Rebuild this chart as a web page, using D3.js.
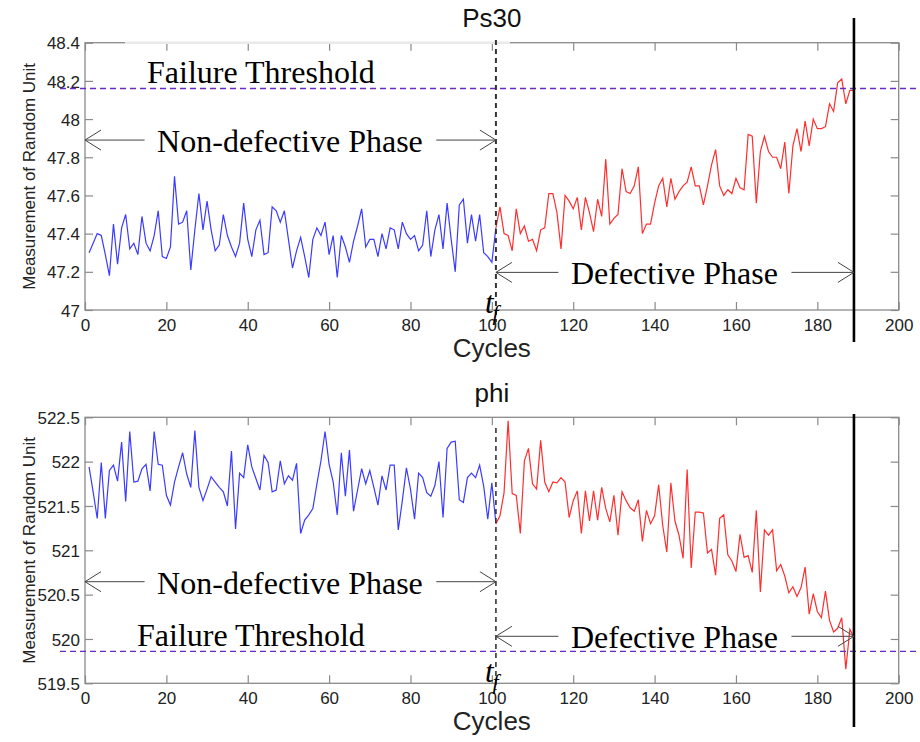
<!DOCTYPE html>
<html>
<head>
<meta charset="utf-8">
<script src="https://cdn.jsdelivr.net/npm/d3@7"></script>
<style>
  body { margin: 0; background: #fff; }
  svg { display: block; }
  .tick-label { font-family: "Liberation Sans", Arial, sans-serif; font-size: 17px; fill: #222; }
  .note { font-family: "Liberation Serif", "Times New Roman", serif; font-size: 32px; fill: #000; }
</style>
</head>
<body>
<div id="chart"></div>
<script>
// data
var ps30Normal = [47.30,47.35,47.40,47.39,47.29,47.18,47.45,47.24,47.43,47.50,
  47.32,47.35,47.29,47.49,47.35,47.31,47.39,47.52,47.28,47.27,
  47.33,47.70,47.45,47.46,47.52,47.21,47.42,47.61,47.42,47.57,
  47.42,47.31,47.34,47.50,47.39,47.33,47.28,47.35,47.56,47.37,
  47.28,47.42,47.47,47.29,47.30,47.54,47.52,47.46,47.52,47.37,
  47.22,47.31,47.38,47.28,47.17,47.37,47.43,47.39,47.46,47.29,
  47.39,47.17,47.39,47.33,47.25,47.36,47.44,47.53,47.33,47.37,
  47.37,47.28,47.40,47.32,47.43,47.42,47.32,47.46,47.40,47.37,
  47.39,47.31,47.34,47.52,47.28,47.42,47.50,47.32,47.56,47.37,
  47.20,47.55,47.58,47.35,47.50,47.36,47.50,47.30,47.28,47.25,47.43];
var ps30Defective = [47.43,47.54,47.40,47.39,47.31,47.53,47.40,47.44,47.36,47.37,
  47.31,47.42,47.43,47.61,47.61,47.51,47.32,47.60,47.57,47.53,
  47.59,47.42,47.59,47.51,47.41,47.58,47.49,47.79,47.45,47.48,
  47.50,47.74,47.62,47.61,47.65,47.75,47.40,47.45,47.45,47.56,
  47.65,47.69,47.54,47.69,47.58,47.62,47.65,47.67,47.75,47.65,
  47.65,47.55,47.65,47.76,47.84,47.65,47.60,47.63,47.61,47.69,
  47.64,47.63,47.92,47.91,47.56,47.83,47.91,47.83,47.80,47.80,
  47.74,47.88,47.61,47.86,47.95,47.83,47.99,47.86,48.00,47.95,
  47.95,47.96,48.08,48.04,48.19,48.21,48.08,48.15,48.15];
var phiNormal = [521.94,521.66,521.36,521.99,521.36,521.90,521.96,521.78,522.22,521.55,
  522.34,521.77,521.78,521.92,521.97,521.67,522.34,521.97,521.96,521.62,
  521.51,521.77,521.94,522.10,521.86,521.71,522.35,521.71,521.56,521.69,
  521.83,521.77,521.71,521.66,521.50,522.12,521.24,521.87,521.82,522.19,
  521.94,521.81,521.68,522.07,521.99,521.66,521.68,522.01,521.75,521.84,
  521.79,521.98,521.19,521.34,521.40,521.47,521.75,522.01,522.34,521.97,
  521.77,521.40,522.10,521.61,522.13,521.44,521.68,521.92,521.75,521.90,
  521.71,521.51,521.84,521.68,521.96,521.96,521.23,521.56,521.93,521.69,
  521.35,521.87,521.82,521.65,521.61,521.73,522.00,521.37,522.15,522.22,
  522.23,521.57,521.54,521.82,521.87,521.82,521.96,521.72,521.35,521.76,521.30];
var phiDefective = [521.30,521.39,521.65,522.46,521.64,521.62,521.19,522.01,522.15,521.75,
  521.69,522.24,521.77,521.66,521.77,521.76,521.82,521.77,521.37,521.56,
  521.67,521.19,521.67,521.33,521.67,521.34,521.71,521.47,521.32,521.62,
  521.17,521.66,521.56,521.48,521.44,521.57,521.10,521.45,521.30,521.39,
  521.74,521.28,520.98,521.76,521.33,521.17,520.91,521.91,520.80,521.43,
  521.43,521.42,520.97,521.01,520.72,521.36,521.40,520.95,520.88,520.76,
  521.18,520.92,520.94,520.75,521.45,520.53,521.23,521.17,521.23,520.77,
  520.84,520.71,520.52,520.59,520.48,520.58,520.81,520.28,520.51,520.31,
  520.24,520.54,520.21,520.08,520.12,520.24,519.66,520.11,520.02];

var normalStart = 1;      // first cycle of the blue part
var faultCycle = 101;     // t_f
var endCycle = 189;       // end of life
var xTicks = [0, 20, 40, 60, 80, 100, 120, 140, 160, 180, 200];
var ps30Ticks = [47, 47.2, 47.4, 47.6, 47.8, 48, 48.2, 48.4];
var phiTicks = [519.5, 520, 520.5, 521, 521.5, 522, 522.5];
var ps30Threshold = 48.16;
var phiThreshold = 519.86;

var width = 920, height = 742;
var left = 85, right = 898.7;

var svg = d3.select("#chart").append("svg")
  .attr("width", width)
  .attr("height", height);

svg.append("rect").attr("width", width).attr("height", height).attr("fill", "#fff");

var x = d3.scaleLinear().domain([0, 200]).range([left, right]);

function toPoints(values, start) {
  return values.map(function(v, i) { return { c: start + i, v: v }; });
}

function drawPanel(p) {
  var y = d3.scaleLinear().domain(p.domain).range([p.bottom, p.top]);
  var g = svg.append("g");

  // frame + ticks
  var axisColor = "#8a8a8a";
  g.append("rect")
    .attr("x", left).attr("y", p.top)
    .attr("width", right - left).attr("height", p.bottom - p.top)
    .attr("fill", "none").attr("stroke", axisColor).attr("stroke-width", 1.3);

  var bottomAxis = d3.axisBottom(x).tickValues(xTicks).tickSize(-8).tickFormat(d3.format("d"));
  var topAxis = d3.axisTop(x).tickValues(xTicks).tickSize(-8).tickFormat("");
  var leftAxis = d3.axisLeft(y).tickValues(p.ticks).tickSize(-8).tickFormat(d3.format("~g"));
  var rightAxis = d3.axisRight(y).tickValues(p.ticks).tickSize(-8).tickFormat("");

  var xb = g.append("g").attr("transform", "translate(0," + p.bottom + ")").call(bottomAxis);
  g.append("g").attr("transform", "translate(0," + p.top + ")").call(topAxis);
  var yl = g.append("g").attr("transform", "translate(" + left + ",0)").call(leftAxis);
  g.append("g").attr("transform", "translate(" + right + ",0)").call(rightAxis);

  g.selectAll(".domain").remove();
  g.selectAll(".tick line").attr("stroke", axisColor).attr("stroke-width", 1.2);
  g.selectAll(".tick text").attr("class", "tick-label").attr("font-size", null).attr("font-family", null).attr("fill", null);
  xb.selectAll(".tick text").attr("y", 21).attr("dy", null);
  yl.selectAll(".tick text").attr("x", -5).attr("dy", "0.36em");

  // faded part of the upper frame
  if (p.fade) {
    g.append("line")
      .attr("x1", p.fade[0]).attr("x2", p.fade[1])
      .attr("y1", p.top).attr("y2", p.top)
      .attr("stroke", "#eaeaea").attr("stroke-width", 2.5);
  }

  // title and axis labels
  g.append("text")
    .attr("x", (left + right) / 2).attr("y", p.top - 15.7)
    .attr("text-anchor", "middle")
    .attr("font-family", "Liberation Sans, Arial, sans-serif")
    .attr("font-size", 26).attr("fill", "#111")
    .text(p.title);

  g.append("text")
    .attr("x", (left + right) / 2).attr("y", p.bottom + 47)
    .attr("text-anchor", "middle")
    .attr("font-family", "Liberation Sans, Arial, sans-serif")
    .attr("font-size", 26).attr("fill", "#222")
    .text("Cycles");

  g.append("text")
    .attr("transform", "translate(35," + ((p.top + p.bottom) / 2) + ") rotate(-90)")
    .attr("text-anchor", "middle")
    .attr("font-family", "Liberation Sans, Arial, sans-serif")
    .attr("font-size", 17).attr("fill", "#222")
    .text("Measurement of Random Unit");

  // series
  var line = d3.line().x(function(d) { return x(d.c); }).y(function(d) { return y(d.v); });
  g.append("path")
    .datum(toPoints(p.normal, normalStart))
    .attr("d", line)
    .attr("fill", "none").attr("stroke", "#3b3bff").attr("stroke-width", 1.2);
  g.append("path")
    .datum(toPoints(p.defective, faultCycle))
    .attr("d", line)
    .attr("fill", "none").attr("stroke", "#ff2e2e").attr("stroke-width", 1.2);

  // failure threshold
  var ty = y(p.threshold);
  g.append("line")
    .attr("x1", 60).attr("x2", width)
    .attr("y1", ty).attr("y2", ty)
    .attr("stroke", "#6a2cc0").attr("stroke-width", 1.4)
    .attr("stroke-dasharray", "6,4");
  g.append("text").attr("class", "note")
    .attr("x", p.thresholdTextX).attr("y", ty - 5.5)
    .text("Failure Threshold");

  // t_f and end markers
  g.append("line")
    .attr("x1", x(faultCycle)).attr("x2", x(faultCycle))
    .attr("y1", p.dash[0]).attr("y2", p.dash[1])
    .attr("stroke", "#333").attr("stroke-width", p.dashWidth)
    .attr("stroke-dasharray", "5,4");
  g.append("line")
    .attr("x1", x(endCycle)).attr("x2", x(endCycle))
    .attr("y1", p.solid[0]).attr("y2", p.solid[1])
    .attr("stroke", "#000").attr("stroke-width", 2.6);

  var tf = g.append("text")
    .attr("x", x(faultCycle) - 11).attr("y", p.tfY)
    .attr("font-family", "Liberation Serif, serif")
    .attr("font-style", "italic").attr("font-size", 31);
  tf.append("tspan").text("t");
  tf.append("tspan").attr("font-size", 22).attr("dy", 7).attr("dx", -1).text("f");

  // phase arrows
  phaseArrow(g, x(0), x(faultCycle), y(p.normalArrow), "Non-defective Phase");
  phaseArrow(g, x(faultCycle), x(endCycle), y(p.defectArrow), "Defective Phase");
}

function phaseArrow(g, x1, x2, ay, label) {
  var t = g.append("text").attr("class", "note")
    .attr("x", (x1 + x2) / 2 - 0.5).attr("y", ay + 12)
    .attr("text-anchor", "middle")
    .text(label);
  var w = t.node().getComputedTextLength();
  var mid = (x1 + x2) / 2;
  var gap = 13;
  var c = "#444";
  g.append("line").attr("x1", x1).attr("x2", mid - w / 2 - gap).attr("y1", ay).attr("y2", ay)
    .attr("stroke", c).attr("stroke-width", 1);
  g.append("line").attr("x1", mid + w / 2 + gap).attr("x2", x2).attr("y1", ay).attr("y2", ay)
    .attr("stroke", c).attr("stroke-width", 1);
  g.append("path")
    .attr("d", "M" + (x1 + 16) + "," + (ay - 10) + "L" + x1 + "," + ay + "L" + (x1 + 16) + "," + (ay + 10))
    .attr("fill", "none").attr("stroke", c).attr("stroke-width", 1);
  g.append("path")
    .attr("d", "M" + (x2 - 16) + "," + (ay - 10) + "L" + x2 + "," + ay + "L" + (x2 - 16) + "," + (ay + 10))
    .attr("fill", "none").attr("stroke", c).attr("stroke-width", 1);
}

drawPanel({
  title: "Ps30",
  top: 42.7, bottom: 310,
  domain: [47, 48.4], ticks: ps30Ticks,
  normal: ps30Normal, defective: ps30Defective,
  threshold: ps30Threshold, thresholdTextX: 147,
  normalArrow: 47.89, defectArrow: 47.197,
  dash: [40, 322], dashWidth: 2, solid: [18, 342],
  tfY: 313, fade: [125, 510]
});

drawPanel({
  title: "phi",
  top: 417.3, bottom: 683.3,
  domain: [519.5, 522.5], ticks: phiTicks,
  normal: phiNormal, defective: phiDefective,
  threshold: phiThreshold, thresholdTextX: 137,
  normalArrow: 520.646, defectArrow: 520.03,
  dash: [428, 690], dashWidth: 1.6, solid: [414, 727],
  tfY: 682, fade: null
});
</script>
</body>
</html>
